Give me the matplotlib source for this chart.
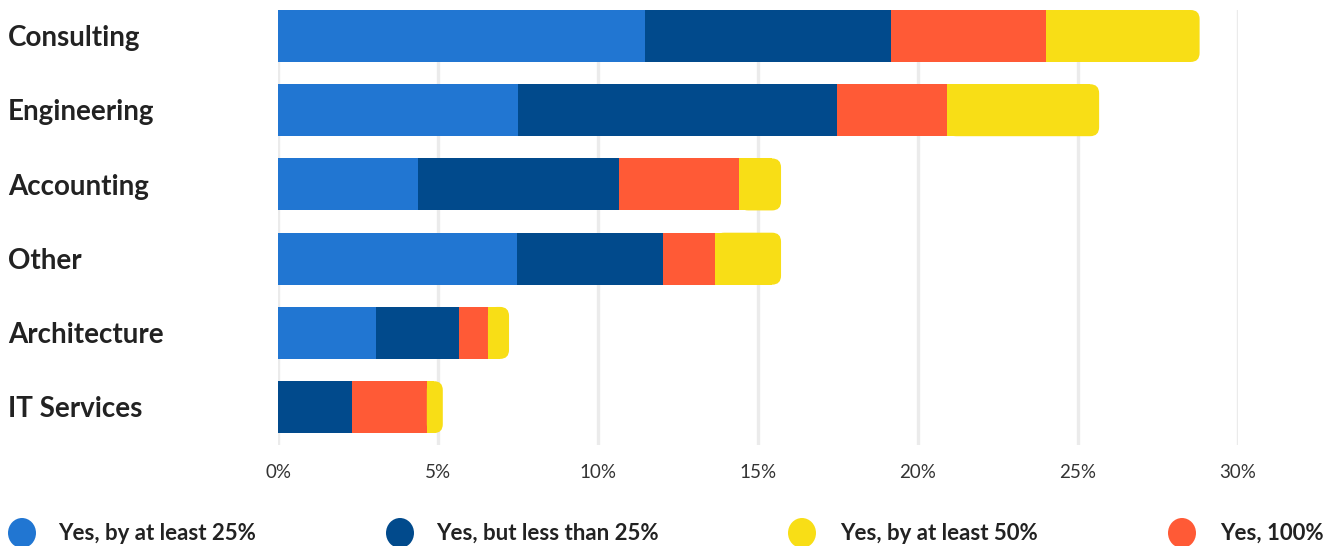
import matplotlib
matplotlib.use("Agg")
import matplotlib.pyplot as plt
from matplotlib.patches import FancyBboxPatch, Ellipse
from matplotlib.transforms import blended_transform_factory

categories = ["Consulting", "Engineering", "Accounting", "Other", "Architecture", "IT Services"]
series_names = ["Yes, by at least 25%", "Yes, but less than 25%", "Yes, 100%", "Yes, by at least 50%"]
at_least_25 = [11.47, 7.5, 4.38, 7.47, 3.06, 0.0]
less_than_25 = [7.69, 9.97, 6.28, 4.56, 2.6, 2.31]
full_100 = [4.84, 3.44, 3.75, 1.63, 0.9, 2.34]
at_least_50 = [4.8, 4.75, 1.31, 2.06, 0.66, 0.5]
tick_values = [0, 5, 10, 15, 20, 25, 30]
tick_labels = ["0%", "5%", "10%", "15%", "20%", "25%", "30%"]
legend_labels = ["Yes, by at least 25%", "Yes, but less than 25%", "Yes, by at least 50%", "Yes, 100%"]

c_light = "#2176D2"
c_dark = "#014A8C"
c_orange = "#FF5A36"
c_yellow = "#F8DE16"
legend_colors = [c_light, c_dark, c_yellow, c_orange]

plt.rcParams['font.family'] = ['Lato', 'DejaVu Sans']

W, H = 1332, 546
fig = plt.figure(figsize=(W / 100, H / 100), dpi=100)
ax = fig.add_axes([278 / W, 1 - 445 / H, (1238 - 278) / W, (445 - 10) / H])
ax.set_xlim(0, 30)
ax.set_ylim(5.51, -0.35)

ypos = list(range(len(categories)))
bh = 0.70

left = [0.0] * len(categories)
for vals, col in [(at_least_25, c_light), (less_than_25, c_dark), (full_100, c_orange)]:
    ax.barh(ypos, vals, left=left, height=bh, color=col, zorder=3, linewidth=0)
    left = [l + v for l, v in zip(left, vals)]

# last segment with rounded right end
r = 0.28
aspect = (9 / 74.2) / r
for y, l, v in zip(ypos, left, at_least_50):
    p = FancyBboxPatch((l, y - bh / 2), v, bh,
                       boxstyle=f"round,pad=0,rounding_size={r}",
                       mutation_aspect=aspect, facecolor=c_yellow,
                       edgecolor="none", zorder=3)
    ax.add_patch(p)
    ax.barh([y], [max(v - r, 0) if v > r else v / 2], left=[l], height=bh,
            color=c_yellow, zorder=3, linewidth=0)

for t in tick_values:
    ax.axvline(t, color="#EBEBEB", linewidth=2.4, zorder=1)

ax.set_xticks(tick_values)
ax.set_xticklabels(tick_labels, fontsize=13.5, color="#333333")
ax.tick_params(axis="x", length=0, pad=14)
ax.set_yticks([])
for s in ax.spines.values():
    s.set_visible(False)

tr = blended_transform_factory(fig.transFigure, ax.transData)
for y, name in zip(ypos, categories):
    ax.text(8 / W, y + 0.03, name, transform=tr, ha="left", va="center",
            fontsize=20, fontweight="bold", color="#222222")

# legend
circle_x = [22, 400, 802, 1182]
text_x = [58, 436, 840, 1220]
ly = 533
for cx, tx, lab, col in zip(circle_x, text_x, legend_labels, legend_colors):
    e = Ellipse((cx / W, 1 - ly / H), 28 / W, 30 / H, transform=fig.transFigure,
                facecolor=col, edgecolor="none")
    fig.patches.append(e)
    fig.text(tx / W, 1 - ly / H, lab, ha="left", va="center", fontsize=16,
             fontweight="bold", color="#222222")

fig.savefig("out.png", dpi=100)
